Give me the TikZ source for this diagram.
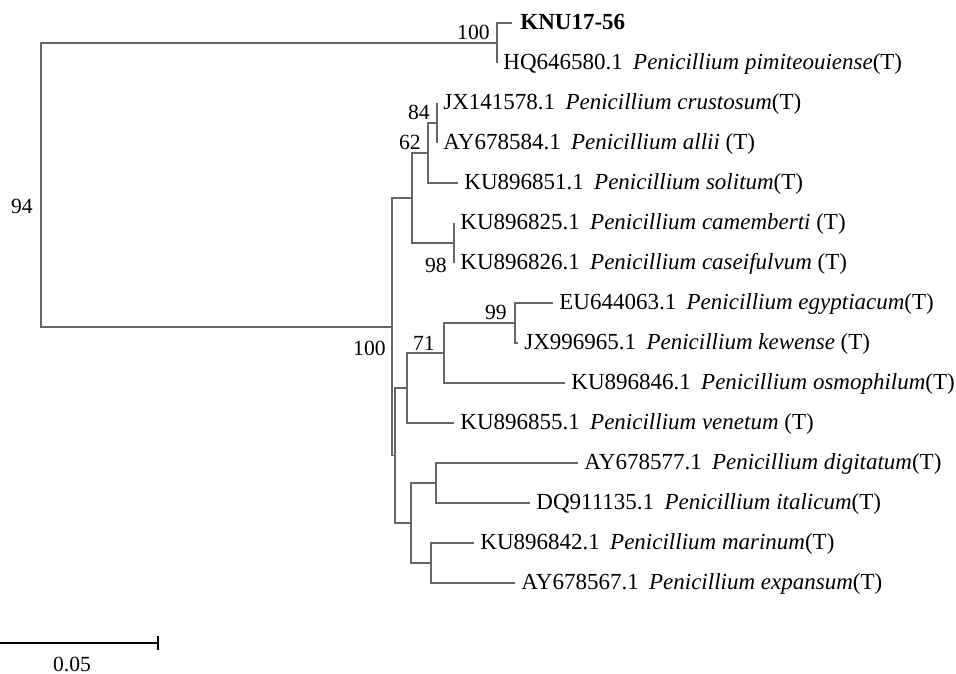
\documentclass[tikz,border=0pt]{standalone}
\usepackage{fontspec}
\setmainfont{Liberation Serif}
\usetikzlibrary{calc}
\definecolor{treegray}{HTML}{666666}
\newcommand{\taxon}[2]{#1\hspace{0.45em}\textit{#2}}

\begin{document}
\begin{tikzpicture}[
          x=0.5pt, y=-0.5pt,
          branch/.style={draw=treegray, line width=0.55pt},
          leaf/.style={anchor=base west, inner sep=0pt, xshift=3pt, yshift=-0.33em,
                       font=\fontsize{11.5}{13}\selectfont},
          boot/.style={anchor=east, inner sep=0pt, font=\fontsize{10.8}{12}\selectfont},
          scalebar/.style={draw=black, line width=0.6pt}
        ]
        \useasboundingbox (0,0) rectangle (956,673);
        % internal nodes
        \coordinate (root) at (41,185);
        \coordinate (nA) at (497,43);
        \coordinate (n1) at (392,327);
        \coordinate (nB) at (412,198);
        \coordinate (c62) at (428,153);
        \coordinate (c84) at (437,123);
        \coordinate (c98) at (454,243);
        \coordinate (n2) at (395,455.5);
        \coordinate (nD) at (407,388);
        \coordinate (c71) at (444,353);
        \coordinate (c99) at (515,323);
        \coordinate (nE) at (411,523);
        \coordinate (nF) at (436,483);
        \coordinate (nG) at (431,563);
        % tips
        \coordinate (knu) at (512,23);
        \coordinate (pim) at (497,63);
        \coordinate (cru) at (437,103);
        \coordinate (all) at (437,143);
        \coordinate (sol) at (458,183);
        \coordinate (cam) at (454,223);
        \coordinate (cas) at (454,263);
        \coordinate (egy) at (553,303);
        \coordinate (kew) at (518,343);
        \coordinate (osm) at (565,383);
        \coordinate (ven) at (454,423);
        \coordinate (dig) at (578,463);
        \coordinate (ita) at (530,503);
        \coordinate (mar) at (474,543);
        \coordinate (exp) at (515,583);
        % branches
        \draw[branch] (root) |- (nA);
        \draw[branch] (root) |- (n1);
        \draw[branch] (nA) |- (knu);
        \draw[branch] (nA) -- (pim);
        \draw[branch] (n1) |- (nB);
        \draw[branch] (n1) |- (n2);
        \draw[branch] (nB) |- (c62);
        \draw[branch] (nB) |- (c98);
        \draw[branch] (c62) |- (c84);
        \draw[branch] (c62) |- (sol);
        \draw[branch] (c84) -- (cru);
        \draw[branch] (c84) -- (all);
        \draw[branch] (c98) -- (cam);
        \draw[branch] (c98) -- (cas);
        \draw[branch] (n2) |- (nD);
        \draw[branch] (n2) |- (nE);
        \draw[branch] (nD) |- (c71);
        \draw[branch] (nD) |- (ven);
        \draw[branch] (c71) |- (c99);
        \draw[branch] (c71) |- (osm);
        \draw[branch] (c99) |- (egy);
        \draw[branch] (c99) |- (kew);
        \draw[branch] (nE) |- (nF);
        \draw[branch] (nE) |- (nG);
        \draw[branch] (nF) |- (dig);
        \draw[branch] (nF) |- (ita);
        \draw[branch] (nG) |- (mar);
        \draw[branch] (nG) |- (exp);
        % tip labels
        \node[leaf, xshift=1pt] (lknu) at (knu) {\textbf{KNU17-56}};
        \node[leaf] (lpim) at (pim) {\taxon{HQ646580.1}{Penicillium pimiteouiense}(T)};
        \node[leaf] (lcru) at (cru) {\taxon{JX141578.1}{Penicillium crustosum}(T)};
        \node[leaf] (lall) at (all) {\taxon{AY678584.1}{Penicillium allii} (T)};
        \node[leaf] (lsol) at (sol) {\taxon{KU896851.1}{Penicillium solitum}(T)};
        \node[leaf] (lcam) at (cam) {\taxon{KU896825.1}{Penicillium camemberti} (T)};
        \node[leaf] (lcas) at (cas) {\taxon{KU896826.1}{Penicillium caseifulvum} (T)};
        \node[leaf] (legy) at (egy) {\taxon{EU644063.1}{Penicillium egyptiacum}(T)};
        \node[leaf] (lkew) at (kew) {\taxon{JX996965.1}{Penicillium kewense} (T)};
        \node[leaf] (losm) at (osm) {\taxon{KU896846.1}{Penicillium osmophilum}(T)};
        \node[leaf] (lven) at (ven) {\taxon{KU896855.1}{Penicillium venetum} (T)};
        \node[leaf] (ldig) at (dig) {\taxon{AY678577.1}{Penicillium digitatum}(T)};
        \node[leaf] (lita) at (ita) {\taxon{DQ911135.1}{Penicillium italicum}(T)};
        \node[leaf] (lmar) at (mar) {\taxon{KU896842.1}{Penicillium marinum}(T)};
        \node[leaf] (lexp) at (exp) {\taxon{AY678567.1}{Penicillium expansum}(T)};
        % bootstrap values
        \node[boot] (broot) at (33,206) {94};
        \node[boot] (bA) at (490,32) {100};
        \node[boot] (b84) at (430,112) {84};
        \node[boot] (b62) at (421,142) {62};
        \node[boot] (b98) at (447,265) {98};
        \node[boot] (b1) at (386,348) {100};
        \node[boot] (b71) at (435,343) {71};
        \node[boot] (b99) at (507,312) {99};
        % scale bar
        \coordinate (sb0) at (0,643);
        \coordinate (sb1) at (158,643);
        \draw[scalebar] (sb0) -- (sb1);
        \draw[scalebar] ($(sb1)+(0,-7)$) -- ($(sb1)+(0,7)$);
        \node[boot, anchor=center] (lsb) at (72,664) {0.05};
      \end{tikzpicture}
\end{document}
